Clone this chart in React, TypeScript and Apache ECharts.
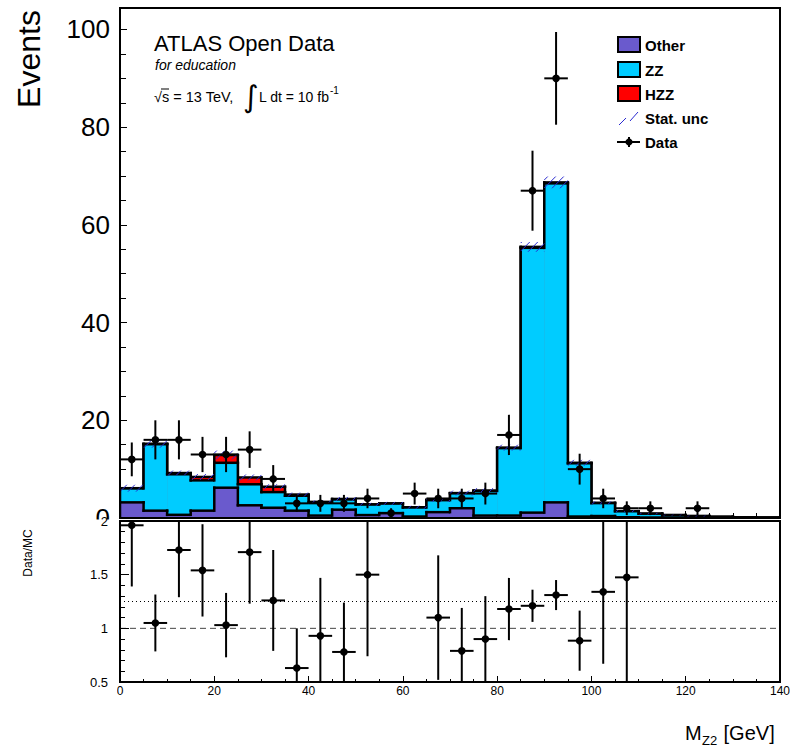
import React, { useEffect, useRef } from "react";
import * as echarts from "echarts";

const FONT = "'Liberation Sans', Arial, Helvetica, sans-serif";

const binEdges = [0, 5, 10, 15, 20, 25, 30, 35, 40, 45, 50, 55, 60, 65, 70, 75, 80, 85, 90, 95, 100, 105, 110, 115, 120, 125, 130, 135, 140];
const otherMC = [3.2, 1.5, 0.65, 1.5, 6.2, 2.6, 2.1, 1.5, 0.5, 1.7, 0.6, 1.0, 0.3, 1.2, 2.0, 0.5, 0.5, 1.1, 3.2, 0.3, 0.4, 0.15, 0.1, 0.1, 0.05, 0.05, 0.03, 0.02];
const zzMC = [2.85, 13.6, 8.3, 6.2, 5.1, 4.3, 3.2, 3.05, 2.7, 2.1, 2.15, 1.95, 1.85, 2.45, 3.05, 5.05, 13.8, 54.2, 65.3, 10.9, 2.65, 1.23, 0.78, 0.49, 0.34, 0.2, 0.12, 0.08];
const hzzMC = [0.05, 0.1, 0.25, 0.7, 1.6, 1.4, 1.1, 0.25, 0.1, 0.1, 0.05, 0.05, 0.05, 0.05, 0.05, 0.05, 0.1, 0.2, 0.2, 0.1, 0.05, 0.02, 0.02, 0.01, 0.01, 0, 0, 0];
const statUnc = [0.7, 0.8, 0.5, 0.6, 0.9, 0.6, 0.5, 0.4, 0.3, 0.4, 0.3, 0.3, 0.3, 0.4, 0.5, 0.5, 0.6, 1.0, 1.2, 0.6, 0.3, 0.2, 0.15, 0.1, 0.1, 0.05, 0.05, 0.05];
const dataCounts = [12, 16, 16, 13, 13, 14, 8, 3, 3, 3, 4, 1, 5, 4, 4, 5, 17, 67, 90, 10, 4, 2, 2, 0, 2, 0, 0, 0];
const dataErr = [3.46, 4, 4, 3.61, 3.61, 3.74, 2.83, 1.73, 1.73, 1.73, 2, 1, 2.24, 2, 2, 2.24, 4.12, 8.19, 9.49, 3.16, 2, 1.41, 1.41, 0, 1.41, 0, 0, 0];
const ratioVals = [1.96, 1.05, 1.73, 1.54, 1.03, 1.71, 1.26, 0.63, 0.93, 0.78, 1.5, null, null, 1.1, 0.79, 0.9, 1.18, 1.21, 1.31, 0.885, 1.34, 1.475, null, null, null, null, null, null];
const ratioErr = [0.57, 0.265, 0.44, 0.43, 0.3, 0.48, 0.47, 0.37, 0.54, 0.46, 0.76, null, null, 0.58, 0.4, 0.4, 0.29, 0.15, 0.14, 0.28, 0.67, 1.04, null, null, null, null, null, null];
const refLevels = [1, 1.25];

const COLORS = { other: "#6A5ACD", zz: "#00CCFF", hzz: "#FF0000", hatch: "#2a2ad0" };

function cumulative(arrs: number[][]): number[] {
  return arrs[0].map((_, i) => arrs.reduce((s, a) => s + a[i], 0));
}

function layerSeries(cum: number[], color: string, z: number) {
  const data = cum.map((v, i) => [binEdges[i], binEdges[i + 1], v, i > 0 ? cum[i - 1] : 0, i === cum.length - 1 ? 1 : 0]);
  return {
    type: "custom",
    xAxisIndex: 0,
    yAxisIndex: 0,
    z,
    clip: true,
    data,
    renderItem: (params: any, api: any) => {
      const xl = api.coord([api.value(0), 0])[0];
      const xr = api.coord([api.value(1), 0])[0];
      const yt = api.coord([0, api.value(2)])[1];
      const y0 = api.coord([0, 0])[1];
      const yp = api.coord([0, api.value(3)])[1];
      const ls = { stroke: "#000", lineWidth: 2.5, lineCap: "square" };
      const children: any[] = [
        { type: "rect", shape: { x: xl, y: yt, width: xr - xl + 0.5, height: y0 - yt }, style: { fill: color } },
        { type: "line", shape: { x1: xl, y1: yt, x2: xr, y2: yt }, style: ls },
        { type: "line", shape: { x1: xl, y1: yp, x2: xl, y2: yt }, style: ls },
      ];
      if (api.value(4) === 1) {
        children.push({ type: "line", shape: { x1: xr, y1: yt, x2: xr, y2: y0 }, style: ls });
      }
      return { type: "group", children };
    },
  };
}

function hatchSeries(total: number[]) {
  const data = total.map((v, i) => [binEdges[i], binEdges[i + 1], v, statUnc[i]]);
  return {
    type: "custom",
    xAxisIndex: 0,
    yAxisIndex: 0,
    z: 6,
    clip: true,
    data,
    renderItem: (params: any, api: any) => {
      const xl = api.coord([api.value(0), 0])[0];
      const xr = api.coord([api.value(1), 0])[0];
      const v = api.value(2);
      const u = api.value(3);
      const yHi = api.coord([0, v + u])[1];
      const yLo = api.coord([0, Math.max(0, v - u)])[1];
      const h = yLo - yHi;
      const children: any[] = [];
      if (h > 0.5) {
        const step = 8;
        let s = Math.floor((xl - h) / step) * step;
        for (; s < xr; s += step) {
          const t0 = Math.max(0, (xl - s) / h);
          const t1 = Math.min(1, (xr - s) / h);
          if (t1 > t0) {
            children.push({
              type: "line",
              shape: { x1: s + t0 * h, y1: yLo - t0 * h, x2: s + t1 * h, y2: yLo - t1 * h },
              style: { stroke: COLORS.hatch, lineWidth: 1 },
            });
          }
        }
      }
      return { type: "group", children };
    },
  };
}

function pointSeries(vals: (number | null)[], errs: (number | null)[], axis: number, z: number) {
  const data: number[][] = [];
  vals.forEach((v, i) => {
    if (v !== null && v > 0) data.push([(binEdges[i] + binEdges[i + 1]) / 2, v, errs[i] as number, binEdges[i], binEdges[i + 1]]);
  });
  return {
    type: "custom",
    xAxisIndex: axis,
    yAxisIndex: axis,
    z,
    clip: true,
    data,
    renderItem: (params: any, api: any) => {
      const c = api.coord([api.value(0), api.value(1)]);
      const yTop = api.coord([0, api.value(1) + api.value(2)])[1];
      const yBot = api.coord([0, api.value(1) - api.value(2)])[1];
      const xl = api.coord([api.value(3), 0])[0];
      const xr = api.coord([api.value(4), 0])[0];
      const ls = { stroke: "#000", lineWidth: 2 };
      return {
        type: "group",
        children: [
          { type: "line", shape: { x1: c[0], y1: yTop, x2: c[0], y2: yBot }, style: ls },
          { type: "line", shape: { x1: xl, y1: c[1], x2: xr, y2: c[1] }, style: ls },
          { type: "circle", shape: { cx: c[0], cy: c[1], r: 3.8 }, style: { fill: "#000" } },
        ],
      };
    },
  };
}

function refLineSeries() {
  return {
    type: "custom",
    xAxisIndex: 1,
    yAxisIndex: 1,
    z: 3,
    clip: true,
    data: refLevels.map((l, i) => [binEdges[0], binEdges[binEdges.length - 1], l, i]),
    renderItem: (params: any, api: any) => {
      const a = api.coord([api.value(0), api.value(2)]);
      const b = api.coord([api.value(1), api.value(2)]);
      const dotted = api.value(3) === 1;
      return {
        type: "line",
        shape: { x1: a[0], y1: a[1], x2: b[0], y2: b[1] },
        style: dotted
          ? { stroke: "#000", lineWidth: 1, lineDash: [1, 3] }
          : { stroke: "#444", lineWidth: 1, lineDash: [6, 4] },
      };
    },
  };
}

export default function App() {
  const ref = useRef<HTMLDivElement>(null);
  useEffect(() => {
    if (!ref.current) return;
    const chart = echarts.init(ref.current, null, { renderer: "svg" });
    const cumOther = otherMC.slice();
    const cumZZ = cumulative([otherMC, zzMC]);
    const cumAll = cumulative([otherMC, zzMC, hzzMC]);

    const tickStyle = { color: "#000", width: 1 };
    const legendY = [45, 70, 94, 118, 142];
    const legendText = (t: string, y: number) => ({
      type: "text",
      x: 645,
      y,
      z: 120,
      style: { text: t, fill: "#000", font: `bold 15px ${FONT}`, align: "left", verticalAlign: "middle" },
    });
    const box = (y: number, color: string) => ({
      type: "rect",
      z: 120,
      shape: { x: 618, y: y - 8, width: 22, height: 15 },
      style: { fill: color, stroke: "#000", lineWidth: 2 },
    });

    const option: any = {
      animation: false,
      backgroundColor: "#fff",
      grid: [
        { left: 120, top: 8, width: 660, height: 510, show: true, borderColor: "#000", borderWidth: 2, backgroundColor: "transparent", z: 10, containLabel: false, outerBoundsMode: "none" },
        { left: 120, top: 521, width: 660, height: 161, show: true, borderColor: "#000", borderWidth: 2, backgroundColor: "transparent", z: 10, containLabel: false, outerBoundsMode: "none" },
      ],
      xAxis: [
        {
          type: "value", gridIndex: 0, min: 0, max: 140, interval: 20,
          axisLine: { show: false },
          axisTick: { show: true, inside: true, length: 7, lineStyle: tickStyle },
          minorTick: { show: true, splitNumber: 4, length: 5, lineStyle: tickStyle },
          axisLabel: { show: false }, splitLine: { show: false },
        },
        {
          type: "value", gridIndex: 1, min: 0, max: 140, interval: 20,
          axisLine: { show: false },
          axisTick: { show: true, inside: true, length: 6, lineStyle: tickStyle },
          minorTick: { show: true, splitNumber: 4, length: 3, lineStyle: tickStyle },
          axisLabel: { show: true, fontSize: 12, color: "#000", fontFamily: FONT, margin: 3 },
          splitLine: { show: false },
        },
      ],
      yAxis: [
        {
          type: "value", gridIndex: 0, min: 0, max: 104.4, interval: 20, z: 0,
          axisLine: { show: false },
          axisTick: { show: true, inside: true, length: 7, lineStyle: tickStyle },
          minorTick: { show: true, splitNumber: 4, length: 6, lineStyle: tickStyle },
          axisLabel: { show: true, fontSize: 26, color: "#000", fontFamily: FONT, margin: 10, showMaxLabel: false },
          splitLine: { show: false },
        },
        {
          type: "value", gridIndex: 1, min: 0.5, max: 2, interval: 0.5, z: 100,
          axisLine: { show: false },
          axisTick: { show: true, inside: true, length: 9, lineStyle: tickStyle },
          minorTick: { show: true, splitNumber: 5, length: 5, lineStyle: tickStyle },
          axisLabel: { show: true, fontSize: 13, color: "#000", fontFamily: FONT, margin: 12 },
          splitLine: { show: false },
        },
      ],
      series: [
        layerSeries(cumAll, COLORS.hzz, 2),
        layerSeries(cumZZ, COLORS.zz, 3),
        layerSeries(cumOther, COLORS.other, 4),
        hatchSeries(cumAll),
        pointSeries(dataCounts, dataErr, 0, 8),
        refLineSeries(),
        pointSeries(ratioVals, ratioErr, 1, 8),
      ],
      graphic: [
        { type: "rect", z: 50, shape: { x: 0, y: 519.5, width: 117, height: 232 }, style: { fill: "#fff" } },
        { type: "text", x: 29, y: 59, rotation: Math.PI / 2, z: 120, style: { text: "Events", fill: "#000", font: `32px ${FONT}`, align: "center", verticalAlign: "middle" } },
        { type: "text", x: 28, y: 553, rotation: Math.PI / 2, z: 120, style: { text: "Data/MC", fill: "#000", font: `12px ${FONT}`, align: "center", verticalAlign: "middle" } },
        { type: "text", x: 685, y: 733, z: 120, style: { text: "M", fill: "#000", font: `20px ${FONT}`, align: "left", verticalAlign: "middle" } },
        { type: "text", x: 702, y: 740, z: 120, style: { text: "Z2", fill: "#000", font: `13px ${FONT}`, align: "left", verticalAlign: "middle" } },
        { type: "text", x: 718, y: 733, z: 120, style: { text: " [GeV]", fill: "#000", font: `20px ${FONT}`, align: "left", verticalAlign: "middle" } },
        { type: "text", x: 154, y: 43, z: 120, style: { text: "ATLAS Open Data", fill: "#000", font: `22px ${FONT}`, align: "left", verticalAlign: "middle" } },
        { type: "text", x: 155, y: 65, z: 120, style: { text: "for education", fill: "#000", font: `italic 14px ${FONT}`, align: "left", verticalAlign: "middle" } },
        { type: "text", x: 154, y: 97, z: 120, style: { text: "√s = 13 TeV,", fill: "#000", font: `14.5px ${FONT}`, align: "left", verticalAlign: "middle" } },
        { type: "line", z: 120, shape: { x1: 161, y1: 89, x2: 169, y2: 89 }, style: { stroke: "#000", lineWidth: 1 } },
        { type: "text", x: 243, y: 96, z: 120, style: { text: "∫", fill: "#000", font: `30px 'DejaVu Sans'`, align: "left", verticalAlign: "middle" } },
        { type: "text", x: 259, y: 97, z: 120, style: { text: "L dt = 10 fb", fill: "#000", font: `14px ${FONT}`, align: "left", verticalAlign: "middle" } },
        { type: "text", x: 330, y: 90, z: 120, style: { text: "-1", fill: "#000", font: `10px ${FONT}`, align: "left", verticalAlign: "middle" } },
        box(legendY[0], COLORS.other),
        box(legendY[1], COLORS.zz),
        box(legendY[2], COLORS.hzz),
        { type: "line", z: 120, shape: { x1: 619, y1: 125, x2: 626, y2: 118 }, style: { stroke: COLORS.hatch, lineWidth: 1 } },
        { type: "line", z: 120, shape: { x1: 630, y1: 121, x2: 638, y2: 112 }, style: { stroke: COLORS.hatch, lineWidth: 1 } },
        { type: "line", z: 120, shape: { x1: 617, y1: 142, x2: 640, y2: 142 }, style: { stroke: "#000", lineWidth: 2 } },
        { type: "line", z: 120, shape: { x1: 629, y1: 137, x2: 629, y2: 147 }, style: { stroke: "#000", lineWidth: 2 } },
        { type: "circle", z: 120, shape: { cx: 629, cy: 142, r: 3.6 }, style: { fill: "#000" } },
        legendText("Other", legendY[0]),
        legendText("ZZ", legendY[1]),
        legendText("HZZ", legendY[2]),
        legendText("Stat. unc", legendY[3]),
        legendText("Data", legendY[4]),
      ],
    };
    chart.setOption(option);
    return () => chart.dispose();
  }, []);
  return <div ref={ref} style={{ position: "absolute", left: 0, top: 0, width: 790, height: 751 }} />;
}
